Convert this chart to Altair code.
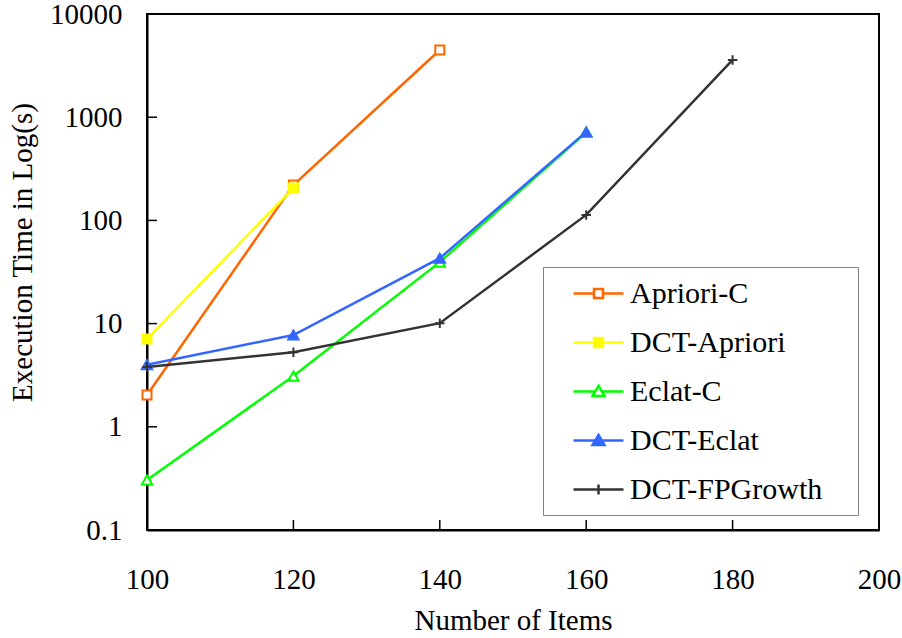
import altair as alt
import pandas as pd

series = ["Apriori-C", "DCT-Apriori", "Eclat-C", "DCT-Eclat", "DCT-FPGrowth"]
items = [100, 120, 140, 160, 180]
apriori_c = [2.03, 220, 4480]
dct_apriori = [7.1, 206]
eclat_c = [0.305, 3.1, 39.4, 715]
dct_eclat = [4.0, 7.75, 43, 720]
dct_fpgrowth = [3.8, 5.27, 10.1, 113, 3585]
values = [apriori_c, dct_apriori, eclat_c, dct_eclat, dct_fpgrowth]

colors = ["#FF6600", "#FFFF00", "#00FF00", "#3366FF", "#333333"]
fills = ["#FFFFFF", "#FFFF00", "#FFFFFF", "#3366FF", "#333333"]
markers = ["square", "square", "triangle", "triangle", "cross"]

x_ticks = [100, 120, 140, 160, 180, 200]
y_ticks = [0.1, 1, 10, 100, 1000, 10000]

FONT = "Liberation Serif, Times New Roman, serif"

rows = []
for name, mk, vals in zip(series, markers, values):
    for x, v in zip(items, vals):
        rows.append({"series": name, "items": x, "time": v, "marker": mk})
df = pd.DataFrame(rows)

x_scale = alt.Scale(domain=[100, 200], nice=False, zero=False)
y_scale = alt.Scale(type="log", domain=[0.1, 10000], nice=False)
stroke_scale = alt.Scale(domain=series, range=colors)
fill_scale = alt.Scale(domain=series, range=fills)

x_axis = alt.Axis(values=x_ticks, title="Number of Items", labelPadding=35,
                  labelFlush=False, labelFont=FONT, labelFontSize=29,
                  titleY=90, titleBaseline="middle")
y_axis = alt.Axis(values=y_ticks, format="~g", title="Execution Time in Log(s)",
                  labelPadding=25, labelFlush=False, labelFont=FONT, labelFontSize=29,
                  titleX=-125, titleY=238, titleBaseline="middle")

mark_shapes = {
    "square": ("square", 81),
    "triangle": ("triangle-up", 110),
    "cross": ("M-1,0H1M0,-1V1", 90),
}

legend_paths = {
    "square": "M-1.667,0H-0.3M0.3,0H1.667M-0.3,-0.3H0.3V0.3H-0.3Z",
    "triangle": "M-1.667,0H-0.22M0.22,0H1.667M0,-0.37L0.4,0.3H-0.4Z",
    "cross": "M-1.667,0H1.667M0,-0.33V0.33",
}

leg = alt.Legend(title="\u00a0", titleOrient="right", titlePadding=26,
                 titleFontSize=1,
                 orient="none", legendX=396, legendY=253,
                 strokeColor="#808080", fillColor="white", padding=10,
                 symbolOffset=29, labelOffset=15, symbolSize=900,
                 symbolStrokeWidth=2.5, rowPadding=17,
                 labelFont=FONT, labelFontSize=30, labelColor="black",
                 labelLimit=0, symbolOpacity=1)

X = alt.X("items:Q", scale=x_scale, axis=x_axis)
Y = alt.Y("time:Q", scale=y_scale, axis=y_axis)
S = alt.Stroke("series:N", scale=stroke_scale, legend=leg)
F = alt.Fill("series:N", scale=fill_scale, legend=leg)

# inner ticks
xt = pd.DataFrame({"v": x_ticks[1:-1]})
yt = pd.DataFrame({"v": y_ticks[1:-1]})
x_tick_layer = alt.Chart(xt).mark_rule(color="black", strokeWidth=1.5).encode(
    x=alt.X("v:Q", scale=x_scale, axis=x_axis),
    y=alt.value(516), y2=alt.value(506))
y_tick_layer = alt.Chart(yt).mark_rule(color="black", strokeWidth=1.5).encode(
    y=alt.Y("v:Q", scale=y_scale, axis=y_axis),
    x=alt.value(0), x2=alt.value(10))

layers = [x_tick_layer, y_tick_layer]

base = alt.Chart(df)
for name, mk in zip(series, markers):
    sub = base.transform_filter(alt.datum.series == name)
    line = sub.mark_line(strokeWidth=2.5).encode(x=X, y=Y, stroke=S)
    shp, sz = mark_shapes[mk]
    pts = sub.mark_point(shape=shp, size=sz, filled=True, opacity=1,
                         strokeWidth=2).encode(x=X, y=Y, stroke=S, fill=F)
    layers += [line, pts]

legend_layer = base.mark_point(filled=True, opacity=0).encode(
    x=X, y=Y, stroke=S, fill=F,
    shape=alt.Shape("series:N", scale=alt.Scale(domain=series,
                    range=[legend_paths[m] for m in markers]), legend=leg))
layers.append(legend_layer)

chart = alt.layer(*layers).properties(
    width=732, height=516,
    autosize=alt.AutoSizeParams(type="none"),
    padding={"left": 147, "top": 14, "right": 23, "bottom": 108},
    background="white",
).configure(font=FONT).configure_view(stroke="black", strokeWidth=2).configure_axis(
    labelFont=FONT, labelFontSize=29, labelColor="black",
    titleFont=FONT, titleFontSize=29, titleFontWeight="normal", titleColor="black",
    grid=False, domainColor="black", domainWidth=2, ticks=False, tickSize=0,
).configure_legend(labelFont=FONT, labelFontSize=30, labelLimit=0)

chart.save("out.html", embed_options={"renderer": "svg", "actions": False})
